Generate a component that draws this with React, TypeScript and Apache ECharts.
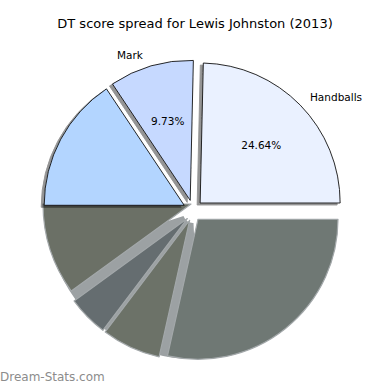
import React, { useEffect, useRef } from 'react';
import * as echarts from 'echarts';

const chartTitle = 'DT score spread for Lewis Johnston (2013)';
const watermark = 'Dream-Stats.com';

// visible (labelled) part of the pie, counter-clockwise from 3 o'clock
const shownNames = ['Handballs', 'Mark', 'Tackles'];
const shownShares = [24.64, 9.73, 15.63];
const shownColors = ['#eaf1ff', '#c6d9ff', '#b3d5ff'];
const shownLabelled = [true, true, false];

// greyed-out lower half
const hiddenNames = ['Kicks', 'Hitouts', 'Free kicks', 'Goals'];
const hiddenShares = [10.0, 4.7, 6.8, 28.5];
const hiddenColors = ['#6b7066', '#656d70', '#6c7268', '#6f7874'];
const bandColor = '#9ca1a3';

const NONE = 'rgba(0,0,0,0)';
const sum = (a: number[]) => a.reduce((s, v) => s + v, 0);

function buildOption() {
  const topTotal = sum(shownShares);
  const base = {
    type: 'pie',
    startAngle: 0,
    clockwise: false,
    avoidLabelOverlap: false,
    silent: true,
    emphasis: { disabled: true },
    percentPrecision: 2,
    label: { show: false },
    labelLine: { show: false },
  };
  const blank = (name: string, value: number) => ({
    name,
    value,
    itemStyle: { color: NONE, borderWidth: 0 },
    label: { show: false },
  });

  const topStyle = (c: string) => ({
    color: c,
    borderColor: '#111',
    borderWidth: 0.9,
    shadowColor: 'rgba(0,0,0,0.42)',
    shadowOffsetX: -3,
    shadowOffsetY: 2,
    shadowBlur: 0,
  });

  const bottomStyle = (c: string) => ({
    color: c,
    borderColor: '#a3a8aa',
    borderWidth: 1.2,
  });

  // underlay: light grey bands between grey slices
  const bigLead = hiddenShares[3] * 0.15;
  const underlay = {
    ...base,
    z: 1,
    center: [193, 213],
    radius: [10, 146],
    data: [
      blank('u0', topTotal + hiddenShares[0] / 2),
      {
        name: 'band',
        value: hiddenShares[0] / 2 + hiddenShares[1] + hiddenShares[2] + bigLead,
        itemStyle: { color: bandColor },
      },
      blank('u2', hiddenShares[3] - bigLead),
    ],
  };

  // first grey slice, sitting flush under the visible half
  const firstGrey = {
    ...base,
    z: 2,
    center: [191, 204],
    radius: 148,
    data: [
      blank('f0', topTotal),
      {
        name: hiddenNames[0],
        value: hiddenShares[0],
        itemStyle: bottomStyle(hiddenColors[0]),
      },
      blank('f2', sum(hiddenShares.slice(1))),
    ],
  };

  const bottom = {
    ...base,
    z: 3,
    center: [193, 213],
    radius: 140,
    selectedMode: 'multiple',
    selectedOffset: 8,
    data: [
      blank('b0', topTotal),
      blank('b1', hiddenShares[0]),
      ...hiddenShares.slice(1).map((v, i) => ({
        name: hiddenNames[i + 1],
        value: v,
        selected: true,
        itemStyle: bottomStyle(hiddenColors[i + 1]),
        select: { itemStyle: bottomStyle(hiddenColors[i + 1]) },
      })),
    ],
  };

  const nameLabel = {
    show: true,
    position: 'outside',
    formatter: '{b}',
    color: '#000',
    fontSize: 10.5,
    fontFamily: 'DejaVu Sans',
    distanceToLabelLine: 5,
  };

  const top = {
    ...base,
    z: 4,
    center: [193, 210],
    radius: 140,
    selectedMode: 'multiple',
    selectedOffset: 10,
    labelLine: { show: false, length: 8, length2: 0 },
    labelLayout: { dx: -1, dy: -3 },
    data: [
      ...shownShares.map((v, i) => ({
        name: shownNames[i],
        value: v,
        selected: true,
        itemStyle: topStyle(shownColors[i]),
        select: { itemStyle: topStyle(shownColors[i]) },
        label: shownLabelled[i] ? nameLabel : { show: false },
      })),
      blank('rest', sum(hiddenShares)),
    ],
  };

  const pct = {
    ...base,
    z: 5,
    center: [193, 210],
    radius: 162,
    selectedMode: 'multiple',
    selectedOffset: 10,
    labelLayout: { dx: 1, dy: 1 },
    data: [
      ...shownShares.map((v, i) => ({
        name: shownNames[i] + ' %',
        value: v,
        selected: true,
        itemStyle: { color: NONE, borderWidth: 0 },
        select: { itemStyle: { color: NONE, borderWidth: 0 } },
        label: shownLabelled[i]
          ? {
              show: true,
              position: 'inside',
              formatter: '{d}%',
              color: '#000',
              fontSize: 10.5,
              fontFamily: 'DejaVu Sans',
            }
          : { show: false },
      })),
      blank('rest %', sum(hiddenShares)),
    ],
  };

  return {
    animation: false,
    backgroundColor: '#ffffff',
    title: {
      text: chartTitle,
      left: 'center',
      top: 12,
      textStyle: {
        fontSize: 13,
        fontWeight: 'normal',
        fontFamily: 'DejaVu Sans',
        color: '#000',
      },
    },
    graphic: [
      {
        type: 'text',
        left: 0,
        top: 371,
        style: {
          text: watermark,
          fill: '#8c8c8c',
          font: '12px "DejaVu Sans"',
        },
      },
    ],
    series: [underlay, firstGrey, bottom, top, pct],
  };
}

export default function App() {
  const ref = useRef<HTMLDivElement>(null);
  useEffect(() => {
    if (!ref.current) return;
    const chart = echarts.init(ref.current, undefined, { renderer: 'svg' });
    chart.setOption(buildOption() as any);
    return () => chart.dispose();
  }, []);
  return (
    <div
      ref={ref}
      style={{ position: 'absolute', left: 0, top: 0, width: 390, height: 390 }}
    />
  );
}
